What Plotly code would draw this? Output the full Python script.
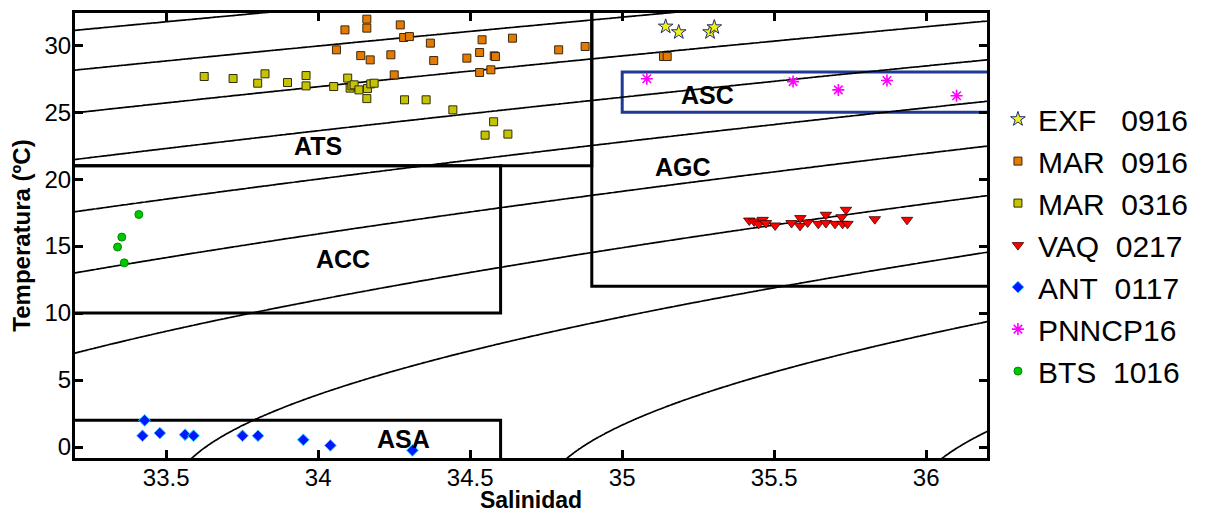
import numpy as np
import plotly.graph_objects as go

# ---- observations (salinity, temperature) per campaign ----
exf_0916_s = [35.143, 35.186, 35.289, 35.303]
exf_0916_t = [31.39, 30.97, 30.97, 31.34]

mar_0916_s = [34.160, 34.160, 34.088, 34.270, 34.281, 34.300, 34.369, 34.539, 34.639,
              34.060, 34.140, 34.171, 34.239, 34.380, 34.489, 34.531, 34.579, 34.583,
              34.791, 34.878, 34.250, 34.531, 34.568, 35.136, 35.148]
mar_0916_t = [31.94, 31.27, 31.14, 31.51, 30.57, 30.64, 30.15, 30.40, 30.52,
              29.65, 29.22, 28.90, 29.28, 28.85, 29.03, 29.45, 29.20, 29.15,
              29.65, 29.90, 27.78, 27.96, 28.16, 29.15, 29.15]

mar_0316_s = [33.625, 33.720, 33.801, 33.825, 33.899, 33.960, 33.960, 34.051, 34.097,
              34.105, 34.111, 34.118, 34.134, 34.162, 34.173, 34.184, 34.160, 34.284,
              34.355, 34.443, 34.577, 34.549, 34.624]
mar_0316_t = [27.66, 27.51, 27.16, 27.86, 27.21, 27.73, 26.96, 26.91, 27.54,
              26.79, 26.96, 27.04, 26.66, 26.76, 27.11, 27.16, 26.01, 25.92,
              25.92, 25.17, 24.28, 23.28, 23.36]

vaq_0217_s = [35.418, 35.434, 35.449, 35.462, 35.473, 35.503, 35.557, 35.586, 35.585,
              35.610, 35.645, 35.670, 35.670, 35.700, 35.722, 35.725, 35.736, 35.741,
              35.831, 35.937]
vaq_0217_t = [16.91, 16.84, 16.66, 16.96, 16.72, 16.54, 16.72, 17.09, 16.51,
              16.76, 16.66, 17.34, 16.72, 16.66, 17.16, 16.66, 17.71, 16.66,
              17.01, 16.96]

ant_0117_s = [33.422, 33.429, 33.479, 33.562, 33.590, 33.751, 33.802, 33.951, 34.040, 34.310]
ant_0117_t = [0.84, 1.99, 1.04, 0.92, 0.84, 0.84, 0.84, 0.54, 0.12, -0.25]

pnncp16_s = [35.081, 35.562, 35.711, 35.871, 36.100]
pnncp16_t = [27.49, 27.28, 26.66, 27.36, 26.22]

bts_1016_s = [33.410, 33.354, 33.340, 33.362]
bts_1016_t = [17.36, 15.67, 14.93, 13.75]

# ---- water-mass boxes: (name, S min, S max, T min, T max) ----
mass_names = ["ATS", "ACC", "AGC", "ASC", "ASA"]
mass_s_min = [33.1, 33.1, 34.9, 35.0, 33.1]
mass_s_max = [34.9, 34.6, 36.4, 36.4, 34.6]
mass_t_min = [21.0, 10.0, 12.0, 25.0, -2.0]
mass_t_max = [34.0, 21.0, 34.0, 28.0, 2.0]
label_s = [34.00, 34.08, 35.20, 35.28, 34.28]
label_t = [22.5, 14.0, 20.9, 26.3, 0.6]

# isopycnal levels (sigma-t, kg/m3)
sigma_levels = list(range(19, 31))

x_range = [33.2, 36.2]
y_range = [-0.82, 32.4]
x_ticks = [33.5, 34, 34.5, 35, 35.5, 36]
y_ticks = [0, 5, 10, 15, 20, 25, 30]


def sigma_t(s, t):
    """UNESCO EOS-80 density at the sea surface minus 1000."""
    rho_w = (999.842594 + 6.793952e-2 * t - 9.095290e-3 * t**2 + 1.001685e-4 * t**3
             - 1.120083e-6 * t**4 + 6.536332e-9 * t**5)
    a = (8.24493e-1 - 4.0899e-3 * t + 7.6438e-5 * t**2 - 8.2467e-7 * t**3
         + 5.3875e-9 * t**4)
    b = -5.72466e-3 + 1.0227e-4 * t - 1.6546e-6 * t**2
    c = 4.8314e-4
    return rho_w + a * s + b * s**1.5 + c * s**2 - 1000.0


grid_s = np.linspace(33.1, 36.3, 321)
grid_t = np.linspace(-1.5, 33.0, 346)
gs, gt = np.meshgrid(grid_s, grid_t)
sig = sigma_t(gs, gt)

fig = go.Figure()

fig.add_trace(go.Contour(
    x=grid_s, y=grid_t, z=sig,
    contours=dict(start=sigma_levels[0], end=sigma_levels[-1], size=1,
                  coloring="lines", showlabels=False),
    colorscale=[[0, "black"], [1, "black"]],
    line=dict(width=1.7), showscale=False, hoverinfo="skip", showlegend=False,
))

series = [
    ("EXF\u00a0\u00a0\u00a00916", exf_0916_s, exf_0916_t,
     dict(symbol="star", size=11, color="#f2f21a", line=dict(color="#1c2c78", width=1))),
    ("MAR\u00a0\u00a00916", mar_0916_s, mar_0916_t,
     dict(symbol="square", size=8, color="#e67a00", line=dict(color="#3a2a10", width=1))),
    ("MAR\u00a0\u00a00316", mar_0316_s, mar_0316_t,
     dict(symbol="square", size=8, color="#c6c400", line=dict(color="#2e2e08", width=1))),
    ("VAQ\u00a0\u00a00217", vaq_0217_s, vaq_0217_t,
     dict(symbol="triangle-down", size=10, color="#ff0000", line=dict(color="#3a0000", width=0.8))),
    ("ANT\u00a0\u00a00117", ant_0117_s, ant_0117_t,
     dict(symbol="diamond", size=9, color="#0018ff", line=dict(color="#33ccff", width=1))),
    ("PNNCP16", pnncp16_s, pnncp16_t,
     dict(symbol="asterisk-open", size=10, color="#ff00ff", line=dict(color="#ff00ff", width=1.6))),
    ("BTS\u00a0\u00a01016", bts_1016_s, bts_1016_t,
     dict(symbol="circle", size=8, color="#00c800", line=dict(color="#008a00", width=1))),
]
for name, xs, ys, mk in series:
    fig.add_trace(go.Scatter(x=xs, y=ys, mode="markers", name=name, marker=mk))

shapes = []
for i, nm in enumerate(mass_names):
    col = "#1f3a93" if nm == "ASC" else "black"
    shapes.append(dict(type="rect", xref="x", yref="y",
                       x0=mass_s_min[i], x1=mass_s_max[i],
                       y0=mass_t_min[i], y1=mass_t_max[i],
                       line=dict(color=col, width=3), layer="below"))
    fig.add_annotation(x=label_s[i], y=label_t[i], text="<b>%s</b>" % nm, showarrow=False,
                       font=dict(size=25, color="black", family="Liberation Sans, Arial"))

axis_common = dict(showline=True, linecolor="black", linewidth=3, mirror="ticks",
                   ticks="inside", ticklen=8, tickwidth=2.5, tickcolor="black",
                   showgrid=False, zeroline=False, automargin=False, ticklabelstandoff=-4,
                   tickfont=dict(size=24, color="black", family="Liberation Sans, Arial"))

fig.update_layout(
    width=1208, height=513,
    margin=dict(l=75, r=221, t=13, b=55),
    paper_bgcolor="white", plot_bgcolor="white",
    shapes=shapes,
    xaxis=dict(range=x_range, tickvals=x_ticks, ticktext=[str(v) for v in x_ticks],
               title=dict(text="<b>Salinidad</b>", standoff=8,
                          font=dict(size=23, color="black", family="Liberation Sans, Arial")),
               **axis_common),
    yaxis=dict(range=y_range, tickvals=y_ticks,
               title=dict(text="<b>Temperatura (ºC)</b>", standoff=8,
                          font=dict(size=24, color="black", family="Liberation Sans, Arial")),
               **axis_common),
    legend=dict(x=1.012, xanchor="left", y=0.82, yanchor="top",
                font=dict(size=30, color="black", family="Liberation Sans, Arial"),
                bgcolor="rgba(0,0,0,0)", itemsizing="trace"),
    showlegend=True,
)

fig.write_html("out.html")
